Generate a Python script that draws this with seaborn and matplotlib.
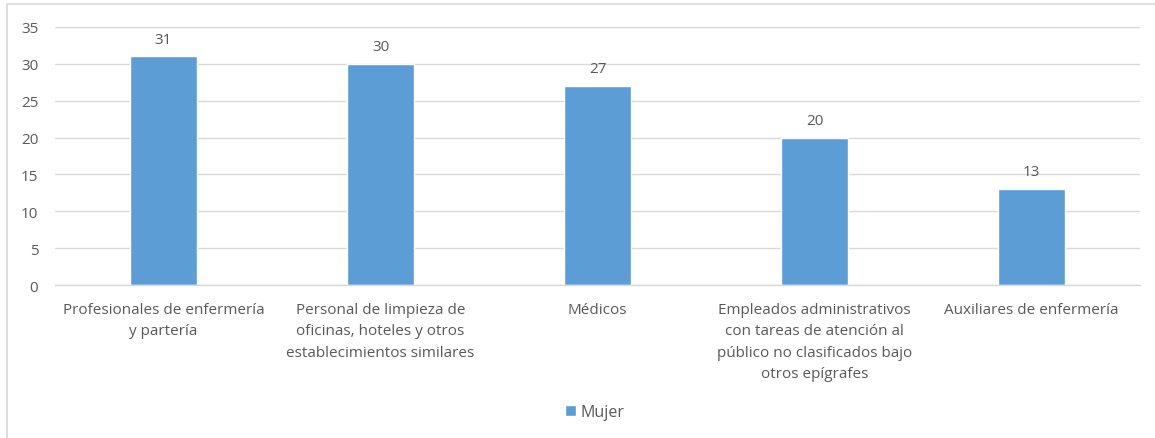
import matplotlib
matplotlib.use("Agg")
import matplotlib.pyplot as plt
import seaborn as sns
import pandas as pd
from matplotlib.patches import Rectangle

categories = [
    "Profesionales de enfermería\ny partería",
    "Personal de limpieza de\noficinas, hoteles y otros\nestablecimientos similares",
    "Médicos",
    "Empleados administrativos\ncon tareas de atención al\npúblico no clasificados bajo\notros epígrafes",
    "Auxiliares de enfermería",
]
values = [31, 30, 27, 20, 13]
series_name = "Mujer"
yticks = [0, 5, 10, 15, 20, 25, 30, 35]

sns.set_theme(style="white")
plt.rcParams['font.family'] = ['Open Sans', 'DejaVu Sans']

df = pd.DataFrame({"cat": categories, "val": values, "serie": series_name})

fig = plt.figure(figsize=(11.55, 4.39), dpi=100)
ax = fig.add_axes([55/1155, 1-286/439, (1140-55)/1155, (286-28)/439])

color = "#5D9DD6"
txt = "#595959"
sns.barplot(data=df, x="cat", y="val", hue="serie", palette=[color], width=0.31,
            ax=ax, legend=True, saturation=1)

ax.set_ylim(0, 35)
ax.set_yticks(yticks)
ax.set_xlim(-0.5, 4.5)
ax.yaxis.grid(True, color="#D9D9D9", linewidth=1)
ax.set_axisbelow(True)
for s in ["top", "right", "left"]:
    ax.spines[s].set_visible(False)
ax.spines["bottom"].set_color("#D9D9D9")
ax.spines["bottom"].set_linewidth(1)
ax.set_xlabel("")
ax.set_ylabel("")
ax.tick_params(axis="both", length=0, colors=txt, labelsize=11)
ax.tick_params(axis="y", pad=12)
ax.tick_params(axis="x", pad=12)
for lbl in ax.get_xticklabels():
    lbl.set_multialignment("center")
    lbl.set_linespacing(1.6)

for c in ax.containers:
    ax.bar_label(c, labels=[str(v) for v in values], padding=7, color=txt, fontsize=11)

leg = ax.legend(loc="center", bbox_to_anchor=(540/1085, (286-413)/258), frameon=False,
                fontsize=11.5, handlelength=0.7, handleheight=0.7, handletextpad=0.3,
                labelcolor=txt)

fig.patches.append(Rectangle((7/1155, -0.01), 1.0, 1-5/439+0.01, transform=fig.transFigure,
                             fill=False, edgecolor="#D9D9D9", linewidth=1.2))

fig.savefig("out.png", dpi=100)
